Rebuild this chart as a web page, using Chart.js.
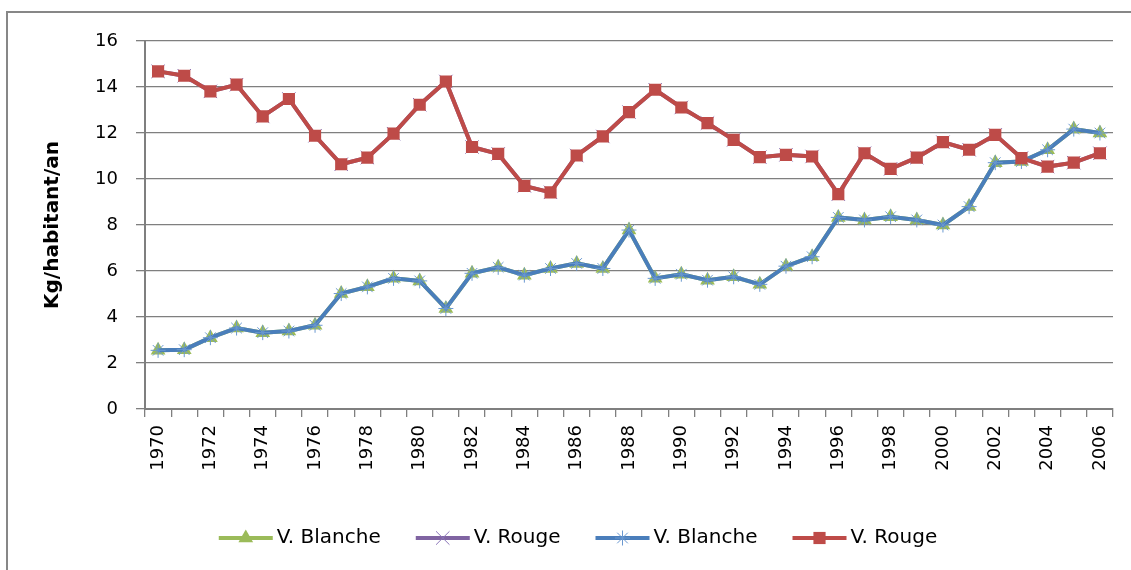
<!DOCTYPE html>
<html>
<head>
<meta charset="utf-8">
<script src="https://cdn.jsdelivr.net/npm/chart.js@4"></script>
<style>
  html, body { margin: 0; padding: 0; background: #fff; overflow: hidden; }
  #frame { position: absolute; left: 6px; top: 11px; width: 2000px; height: 2000px;
           border-left: 2px solid #878787; border-top: 2px solid #878787; }
  #chart { position: absolute; left: 0; top: 0; }
</style>
</head>
<body>
<div id="frame"></div>
<canvas id="chart" width="1131" height="570"></canvas>
<script>
// Années
const years = [];
for (let y = 1970; y <= 2006; y++) years.push(String(y));

// Consommation (kg/habitant/an)
const blanche = [2.55, 2.58, 3.10, 3.52, 3.32, 3.39, 3.64, 5.02, 5.31, 5.68, 5.57, 4.37, 5.90,
                 6.16, 5.82, 6.11, 6.33, 6.11, 7.78, 5.68, 5.86, 5.60, 5.75, 5.42, 6.21, 6.62,
                 8.33, 8.22, 8.36, 8.22, 8.00, 8.80, 10.71, 10.76, 11.27, 12.17, 12.00];
const rouge = [14.68, 14.49, 13.81, 14.10, 12.72, 13.48, 11.88, 10.64, 10.93, 11.97, 13.23, 14.24, 11.39,
               11.09, 9.70, 9.42, 11.02, 11.85, 12.91, 13.88, 13.11, 12.43, 11.70, 10.95, 11.05, 10.98,
               9.34, 11.12, 10.44, 10.93, 11.60, 11.27, 11.92, 10.91, 10.54, 10.71, 11.12];

const seriesNames = ['V. Blanche', 'V. Rouge', 'V. Blanche', 'V. Rouge'];
const yTicks = [0, 2, 4, 6, 8, 10, 12, 14, 16];

const FONT = 'DejaVu Sans';

// Légende dessinée à la main (trait + marqueur comme dans Excel)
const lineLegend = {
    id: 'lineLegend',
    afterDraw(chart) {
        const ctx = chart.ctx;
        const sets = chart.data.datasets;
        const lineLen = 54, gapText = 4, gapItem = 35;
        const cy = 538;
        ctx.save();
        ctx.font = '20px "' + FONT + '"';
        const widths = sets.map(ds => ctx.measureText(ds.label).width);
        let total = 0;
        widths.forEach((w, i) => { total += lineLen + gapText + w + (i < widths.length - 1 ? gapItem : 0); });
        let x = 578 - total / 2;
        sets.forEach((ds, i) => {
            ctx.strokeStyle = ds.borderColor;
            ctx.lineWidth = 4;
            ctx.beginPath();
            ctx.moveTo(x, cy);
            ctx.lineTo(x + lineLen, cy);
            ctx.stroke();
            ctx.fillStyle = ds.pointBackgroundColor;
            ctx.strokeStyle = ds.pointBorderColor;
            ctx.lineWidth = ds.pointBorderWidth;
            Chart.helpers.drawPoint(ctx, {
                pointStyle: ds.pointStyle, radius: ds.pointRadius,
                rotation: 0, borderWidth: ds.pointBorderWidth
            }, x + lineLen / 2, cy);
            ctx.fillStyle = '#000';
            ctx.textBaseline = 'middle';
            ctx.textAlign = 'left';
            ctx.fillText(ds.label, x + lineLen + gapText, cy);
            x += lineLen + gapText + widths[i] + gapItem;
        });
        ctx.restore();
    }
};

const ctx = document.getElementById('chart').getContext('2d');
new Chart(ctx, {
    type: 'line',
    data: {
        labels: years,
        datasets: [
            {
                label: seriesNames[0], data: blanche, order: 3,
                borderColor: '#9BBB59', borderWidth: 4,
                pointStyle: 'triangle', pointRadius: 8.5,
                pointBackgroundColor: '#9BBB59', pointBorderColor: '#9BBB59', pointBorderWidth: 0
            },
            {
                label: seriesNames[1], data: rouge, order: 2,
                borderColor: '#8064A2', borderWidth: 4,
                pointStyle: 'crossRot', pointRadius: 9.5,
                pointBackgroundColor: '#8064A2', pointBorderColor: '#8A74B8', pointBorderWidth: 1
            },
            {
                label: seriesNames[2], data: blanche, order: 1,
                borderColor: '#4A7EBB', borderWidth: 4,
                pointStyle: 'star', pointRadius: 7.5,
                pointBackgroundColor: '#4A7EBB', pointBorderColor: '#6A98D0', pointBorderWidth: 1
            },
            {
                label: seriesNames[3], data: rouge, order: 0,
                borderColor: '#BE4B48', borderWidth: 4,
                pointStyle: 'rect', pointRadius: 8.6,
                pointBackgroundColor: '#BE4B48', pointBorderColor: '#BE4B48', pointBorderWidth: 0
            }
        ]
    },
    options: {
        responsive: false,
        animation: false,
        devicePixelRatio: 1,
        layout: { padding: { left: 41, right: 18, top: 41, bottom: 100 } },
        elements: { line: { tension: 0 } },
        plugins: {
            legend: { display: false },
            tooltip: { enabled: false }
        },
        scales: {
            x: {
                type: 'category',
                offset: true,
                afterFit(scale) { scale.height = 61; },
                grid: { offset: true, drawOnChartArea: false, drawTicks: true, tickLength: 8,
                        color: '#7F7F7F', lineWidth: 1.3 },
                border: { color: '#7F7F7F', width: 2 },
                ticks: {
                    autoSkip: false, maxRotation: 90, minRotation: 90, padding: 8,
                    color: '#000', font: { family: FONT, size: 18 },
                    callback(val, i) { return i % 2 === 0 ? this.getLabelForValue(val) : ''; }
                }
            },
            y: {
                min: yTicks[0], max: yTicks[yTicks.length - 1],
                afterFit(scale) { scale.width = 104; },
                afterBuildTicks(scale) { scale.ticks = yTicks.map(v => ({ value: v })); },
                grid: { color: '#7F7F7F', lineWidth: 1.3, tickLength: 9 },
                border: { color: '#7F7F7F', width: 2 },
                ticks: { padding: 18, color: '#000', font: { family: FONT, size: 18 } },
                title: {
                    display: true, text: 'Kg/habitant/an', color: '#000',
                    padding: 0, font: { family: FONT, size: 20, weight: 'bold' }
                }
            }
        }
    },
    plugins: [lineLegend]
});
</script>
</body>
</html>
